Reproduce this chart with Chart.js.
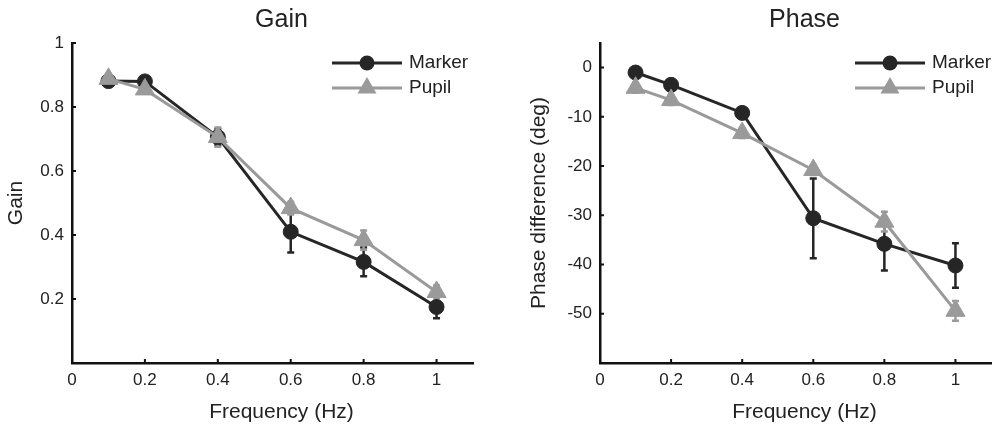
<!DOCTYPE html>
<html>
<head>
<meta charset="utf-8">
<script src="https://cdn.jsdelivr.net/npm/chart.js@4.4.1/dist/chart.umd.min.js"></script>
<style>
html, body { margin: 0; padding: 0; background: #fff; }
#contenedor { position: relative; width: 1003px; height: 424px; overflow: hidden; }
#graficaGain { position: absolute; left: 0; top: 0; }
#graficaPhase { position: absolute; left: 500px; top: 0; }
</style>
</head>
<body>
<div id="contenedor">
    <canvas id="graficaGain" width="500" height="424"></canvas>
    <canvas id="graficaPhase" width="503" height="424"></canvas>
</div>
<script>
// Datos
var frecuencias = [0.1, 0.2, 0.4, 0.6, 0.8, 1.0];

var gainMarker = [0.881, 0.880, 0.706, 0.410, 0.316, 0.175];
var gainMarkerErr = [0, 0, 0.025, 0.065, 0.045, 0.035];
var gainPupil = [0.888, 0.855, 0.706, 0.484, 0.384, 0.222];
var gainPupilErr = [0.01, 0.01, 0.03, 0.02, 0.03, 0.02];

var phaseMarker = [-1.0, -3.5, -9.2, -30.6, -35.8, -40.2];
var phaseMarkerErr = [0, 0, 0, 8.1, 5.4, 4.5];
var phasePupil = [-4.1, -6.6, -13.3, -20.8, -31.3, -49.4];
var phasePupilErr = [1, 1, 1, 1, 2, 2];

var ticksX = [0, 0.2, 0.4, 0.6, 0.8, 1];
var ticksGain = [0.2, 0.4, 0.6, 0.8, 1];
var ticksPhase = [-50, -40, -30, -20, -10, 0];

var fuente = "'Liberation Sans', Arial, sans-serif";
var colorNegro = '#262626';
var colorGris = '#9a9a9a';
var colorTexto = '#222';

// Barras de error (dibujadas debajo de las líneas)
var pluginErrores = {
    id: 'errores',
    beforeDatasetsDraw: function (chart) {
        var ctx = chart.ctx;
        var escalaX = chart.scales.x;
        var escalaY = chart.scales.y;
        chart.data.datasets.forEach(function (ds) {
            if (!ds.errores) return;
            ctx.save();
            ctx.strokeStyle = ds.borderColor;
            ctx.lineWidth = 2.5;
            ctx.beginPath();
            ds.data.forEach(function (p, i) {
                var e = ds.errores[i];
                if (!e) return;
                var px = escalaX.getPixelForValue(p.x);
                var y1 = escalaY.getPixelForValue(p.y + e);
                var y2 = escalaY.getPixelForValue(p.y - e);
                ctx.moveTo(px, y1); ctx.lineTo(px, y2);
                ctx.moveTo(px - 3.5, y1); ctx.lineTo(px + 3.5, y1);
                ctx.moveTo(px - 3.5, y2); ctx.lineTo(px + 3.5, y2);
            });
            ctx.stroke();
            ctx.restore();
        });
    }
};

// Marcas de los ejes hacia adentro, estilo MATLAB
var pluginTicks = {
    id: 'ticksInternos',
    afterDraw: function (chart) {
        var ctx = chart.ctx;
        var area = chart.chartArea;
        var ex = chart.scales.x;
        var ey = chart.scales.y;
        ctx.save();
        ctx.strokeStyle = '#111';
        ctx.lineWidth = 2;
        ctx.beginPath();
        ex.ticks.forEach(function (t) {
            var px = ex.getPixelForValue(t.value);
            ctx.moveTo(px, area.bottom);
            ctx.lineTo(px, area.bottom - 4);
        });
        ey.ticks.forEach(function (t) {
            var py = ey.getPixelForValue(t.value);
            ctx.moveTo(area.left, py);
            ctx.lineTo(area.left + 4, py);
        });
        ctx.stroke();
        ctx.restore();
    }
};

// Título y etiqueta del eje X (un poco corridos a la derecha como en la figura)
var pluginTextos = {
    id: 'textos',
    afterDraw: function (chart, args, opts) {
        var ctx = chart.ctx;
        var area = chart.chartArea;
        var centro = (area.left + area.right) / 2 + opts.corrimiento;
        ctx.save();
        ctx.fillStyle = colorTexto;
        ctx.textAlign = 'center';
        ctx.textBaseline = 'middle';
        ctx.font = '25px ' + fuente;
        ctx.fillText(opts.titulo, centro, 20);
        ctx.font = '21px ' + fuente;
        ctx.fillText(opts.tituloX, centro, 412);
        ctx.restore();
    }
};

function dibujarPunto(ctx, estilo, radio, color, x, y) {
    ctx.fillStyle = color;
    ctx.beginPath();
    if (estilo === 'triangle') {
        var rad = 0;
        ctx.moveTo(x + Math.sin(rad) * radio, y - Math.cos(rad) * radio);
        rad += 2 * Math.PI / 3;
        ctx.lineTo(x + Math.sin(rad) * radio, y - Math.cos(rad) * radio);
        rad += 2 * Math.PI / 3;
        ctx.lineTo(x + Math.sin(rad) * radio, y - Math.cos(rad) * radio);
        ctx.closePath();
    } else {
        ctx.arc(x, y, radio, 0, Math.PI * 2);
    }
    ctx.fill();
}

// Leyenda dentro del área, con línea y marcador
var pluginLeyenda = {
    id: 'leyendaInterna',
    afterDraw: function (chart, args, opts) {
        var ctx = chart.ctx;
        var x0 = opts.x;
        ctx.save();
        chart.data.datasets.forEach(function (ds, i) {
            var y = opts.y + i * 25;
            ctx.strokeStyle = ds.borderColor;
            ctx.lineWidth = 3;
            ctx.beginPath();
            ctx.moveTo(x0, y);
            ctx.lineTo(x0 + 70, y);
            ctx.stroke();
            dibujarPunto(ctx, ds.pointStyle, ds.pointStyle === 'triangle' ? 11 : 7.5, ds.pointBackgroundColor, x0 + 35, y);
            ctx.fillStyle = colorTexto;
            ctx.font = '19px ' + fuente;
            ctx.textBaseline = 'middle';
            ctx.textAlign = 'left';
            ctx.fillText(ds.label, x0 + 77, y);
        });
        ctx.restore();
    }
};

function armarPuntos(valores) {
    return valores.map(function (v, i) {
        return { x: frecuencias[i], y: v };
    });
}

function crearGrafica(idCanvas, cfg) {
    var ctx = document.getElementById(idCanvas).getContext('2d');

    var datasets = [
        {
            label: 'Marker',
            data: armarPuntos(cfg.marker),
            errores: cfg.markerErr,
            borderColor: colorNegro,
            borderWidth: 3,
            pointStyle: 'circle',
            pointRadius: 7.5,
            pointBackgroundColor: colorNegro,
            pointBorderColor: colorNegro,
            pointBorderWidth: 1,
            tension: 0,
            order: 1
        },
        {
            label: 'Pupil',
            data: armarPuntos(cfg.pupil),
            errores: cfg.pupilErr,
            borderColor: colorGris,
            borderWidth: 3,
            pointStyle: 'triangle',
            pointRadius: 11,
            pointBackgroundColor: colorGris,
            pointBorderColor: colorGris,
            pointBorderWidth: 1,
            tension: 0,
            order: 0
        }
    ];

    return new Chart(ctx, {
        type: 'line',
        data: { datasets: datasets },
        plugins: [pluginErrores, pluginTicks, pluginTextos, pluginLeyenda],
        options: {
            responsive: false,
            animation: false,
            devicePixelRatio: 1,
            events: [],
            layout: { padding: { left: 0, right: cfg.padDerecha, top: 43, bottom: 0 } },
            plugins: {
                legend: { display: false },
                tooltip: { enabled: false },
                title: { display: false },
                textos: { titulo: cfg.titulo, tituloX: 'Frequency (Hz)', corrimiento: 9 },
                leyendaInterna: { x: cfg.leyendaX, y: 63 }
            },
            scales: {
                x: {
                    type: 'linear',
                    min: 0,
                    max: 1.1,
                    afterBuildTicks: function (s) {
                        s.ticks = ticksX.map(function (v) { return { value: v }; });
                    },
                    afterFit: function (s) { s.height = 61; },
                    grid: { display: false, drawTicks: false },
                    border: { display: true, color: '#111', width: 2.5 },
                    ticks: {
                        color: colorTexto,
                        font: { size: 17, family: fuente },
                        padding: 7,
                        maxRotation: 0,
                        autoSkip: false,
                        callback: function (v) { return String(v); }
                    },
                    title: { display: false }
                },
                y: {
                    type: 'linear',
                    min: cfg.yMin,
                    max: cfg.yMax,
                    afterBuildTicks: function (s) {
                        s.ticks = cfg.ticksY.map(function (v) { return { value: v }; });
                    },
                    afterFit: function (s) { s.width = cfg.anchoY; },
                    grid: { display: false, drawTicks: false },
                    border: { display: true, color: '#111', width: 2.5 },
                    ticks: {
                        color: colorTexto,
                        font: { size: 17, family: fuente },
                        padding: 8,
                        autoSkip: false,
                        callback: function (v) { return String(v); }
                    },
                    title: {
                        display: true,
                        text: cfg.tituloY,
                        color: colorTexto,
                        font: { size: 21, family: fuente },
                        padding: { top: cfg.padTituloY, bottom: 0 }
                    }
                }
            }
        }
    });
}

var graficaGain = crearGrafica('graficaGain', {
    titulo: 'Gain',
    tituloY: 'Gain',
    marker: gainMarker,
    markerErr: gainMarkerErr,
    pupil: gainPupil,
    pupilErr: gainPupilErr,
    yMin: 0,
    yMax: 1,
    ticksY: ticksGain,
    anchoY: 72,
    padTituloY: 4,
    padDerecha: 27,
    leyendaX: 332
});

var graficaPhase = crearGrafica('graficaPhase', {
    titulo: 'Phase',
    tituloY: 'Phase difference (deg)',
    marker: phaseMarker,
    markerErr: phaseMarkerErr,
    pupil: phasePupil,
    pupilErr: phasePupilErr,
    yMin: -60,
    yMax: 5,
    ticksY: ticksPhase,
    anchoY: 100,
    padTituloY: 27,
    padDerecha: 2,
    leyendaX: 355
});
</script>
</body>
</html>
